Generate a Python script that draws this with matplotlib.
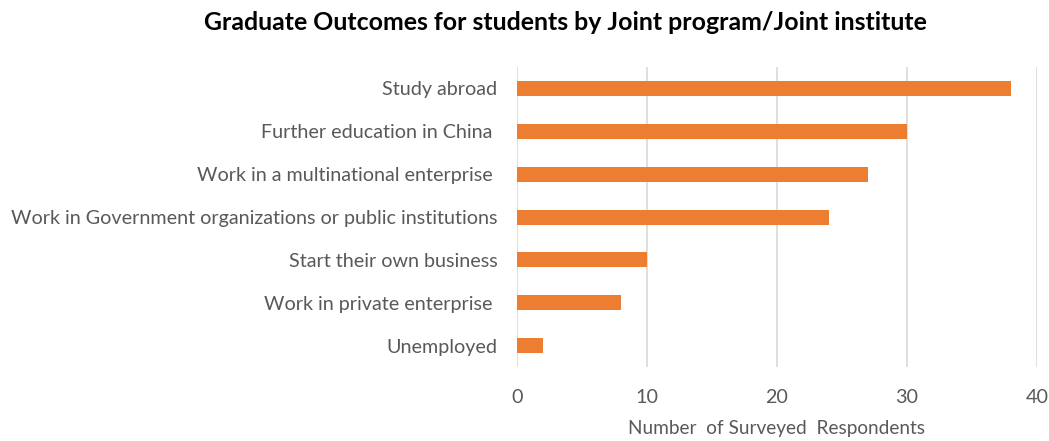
import matplotlib
matplotlib.use("Agg")
import matplotlib.pyplot as plt

categories = [
    "Study abroad",
    "Further education in China ",
    "Work in a multinational enterprise ",
    "Work in Government organizations or public institutions",
    "Start their own business",
    "Work in private enterprise ",
    "Unemployed",
]
respondents = [38, 30, 27, 24, 10, 8, 2]
x_ticks = [0, 10, 20, 30, 40]

bar_color = "#ED7D31"
text_color = "#595959"
grid_color = "#D9D9D9"
label_font = "Lato"

fig = plt.figure(figsize=(10.49, 4.41), dpi=100)
ax = fig.add_axes([517 / 1049, 1 - 367 / 441, 520 / 1049, 300 / 441])

y = list(range(len(categories)))
ax.barh(y, respondents, height=0.35, color=bar_color, zorder=3)

ax.set_ylim(len(categories) - 0.5, -0.5)
ax.set_xlim(0, 40)
ax.set_xticks(x_ticks)
ax.set_yticks(y)
ax.set_yticklabels(categories, fontfamily=label_font, fontsize=14.2, color=text_color)
ax.set_xticklabels([str(t) for t in x_ticks], fontfamily=label_font, fontsize=14.2, color=text_color)

ax.tick_params(axis="y", length=0, pad=14)
ax.tick_params(axis="x", length=0, pad=16)

ax.xaxis.grid(True, color=grid_color, linewidth=1.2, zorder=0)
for side in ["top", "right", "bottom", "left"]:
    ax.spines[side].set_visible(False)

ax.set_xlabel("Number  of Surveyed  Respondents", fontfamily=label_font, fontsize=13.7,
              color=text_color, labelpad=10)

fig.text(565 / 1049, 1 - 22 / 441, "Graduate Outcomes for students by Joint program/Joint institute",
         ha="center", va="center", fontsize=17.9, fontweight="bold",
         fontfamily="Lato", color="black")

fig.savefig("out.png", dpi=100, facecolor="white")
